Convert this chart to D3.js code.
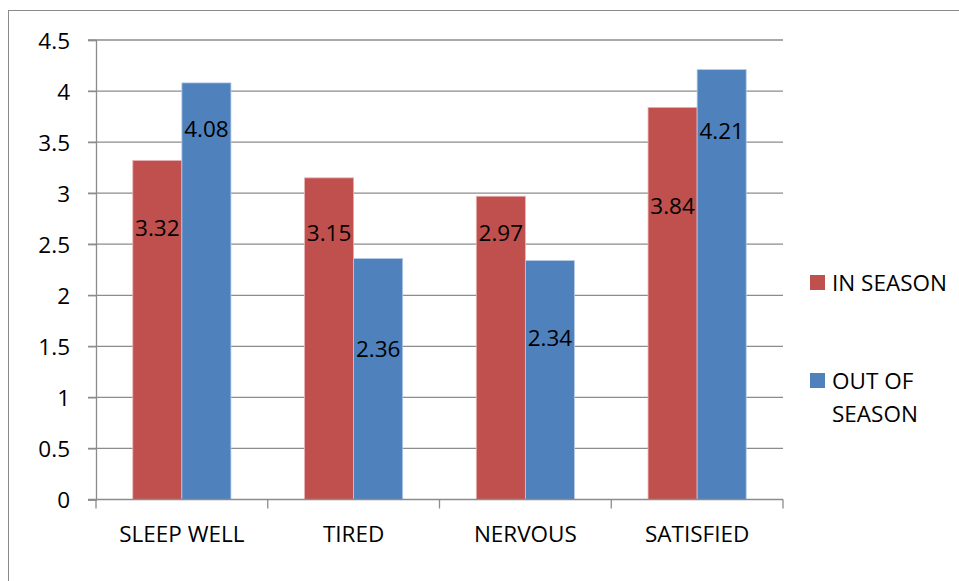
<!DOCTYPE html>
<html>
<head>
<meta charset="utf-8">
<script src="https://cdn.jsdelivr.net/npm/d3@7"></script>
<style>
html,body{margin:0;padding:0;background:#fff;}
svg{display:block;font-family:"Open Sans",sans-serif;}
</style>
</head>
<body>
<svg id="chart" width="959" height="581"></svg>
<script>
const categories = ["SLEEP WELL", "TIRED", "NERVOUS", "SATISFIED"];
const seriesNames = ["IN SEASON", "OUT OF SEASON"];
const inSeason = [3.32, 3.15, 2.97, 3.84];
const outOfSeason = [4.08, 2.36, 2.34, 4.21];
// vertical anchor of each data label, in value units (as placed in the original)
const labelAtIn = [2.66, 2.61, 2.61, 2.88];
const labelAtOut = [3.63, 1.47, 1.58, 3.61];
const yTicks = [0, 0.5, 1, 1.5, 2, 2.5, 3, 3.5, 4, 4.5];
const colors = ["#C0504D", "#4F81BD"];

(function () {
const svg = d3.select("#chart");
const W = 959, H = 581;
const mLeft = 96, mRight = 783, mTop = 40, mBottom = 499.5;

// outer border
svg.append("rect").attr("x", 8.5).attr("y", 10.5).attr("width", W + 10).attr("height", H + 10)
  .attr("fill", "none").attr("stroke", "#8a8a8a").attr("stroke-width", 1);

const x = d3.scaleBand().domain(categories).range([mLeft, mRight]).padding(0);
const xs = d3.scaleBand().domain(seriesNames).range([0, x.bandwidth()]).paddingInner(0).paddingOuter(0.75);
const y = d3.scaleLinear().domain([0, 4.5]).range([mBottom, mTop]);

// gridlines
svg.append("g").selectAll("line").data(yTicks.filter(d => d > 0)).join("line")
  .attr("x1", mLeft - 8).attr("x2", mRight)
  .attr("y1", d => y(d)).attr("y2", d => y(d))
  .attr("stroke", "#8c8c8c").attr("stroke-width", 1.3);

// y axis
const yAxis = svg.append("g").attr("transform", `translate(${mLeft},0)`)
  .call(d3.axisLeft(y).tickValues(yTicks).tickSize(8).tickPadding(18).tickFormat(d3.format("")));
yAxis.select(".domain").attr("stroke", "#8c8c8c").attr("stroke-width", 1.3);
yAxis.selectAll(".tick line").attr("stroke", "#8c8c8c").attr("stroke-width", 1.3);
yAxis.selectAll(".tick text").attr("font-size", 22.5).attr("fill", "#000")
  .attr("font-family", "Open Sans, sans-serif").attr("dy", "0.36em");

// bars
const rows = categories.map((c, i) => ({c, vals: [inSeason[i], outOfSeason[i]], labs: [labelAtIn[i], labelAtOut[i]]}));
const groups = svg.append("g").selectAll("g").data(rows).join("g")
  .attr("transform", d => `translate(${x(d.c)},0)`);
groups.selectAll("rect").data(d => d.vals.map((v, k) => ({v, k, lab: d.labs[k]}))).join("rect")
  .attr("x", d => xs(seriesNames[d.k]))
  .attr("width", xs.bandwidth())
  .attr("y", d => y(d.v))
  .attr("height", d => y(0) - y(d.v))
  .attr("fill", d => colors[d.k])
  .attr("stroke", d => d.k === 0 ? "#e8b4b3" : "#b7cbe6")
  .attr("stroke-width", 0.8);

// x axis
const xAxis = svg.append("g").attr("transform", `translate(0,${mBottom})`);
xAxis.append("line").attr("x1", mLeft - 8).attr("x2", mRight).attr("y1", 0).attr("y2", 0)
  .attr("stroke", "#8c8c8c").attr("stroke-width", 1.3);
const xEdges = categories.map(c => x(c)).concat([x(categories[categories.length - 1]) + x.bandwidth()]);
xAxis.selectAll("line.tk").data(xEdges).join("line").attr("class", "tk")
  .attr("x1", d => d).attr("x2", d => d).attr("y1", 0).attr("y2", 9)
  .attr("stroke", "#8c8c8c").attr("stroke-width", 1.3);
xAxis.selectAll("text").data(categories).join("text")
  .attr("x", d => x(d) + x.bandwidth() / 2).attr("y", 42.5)
  .attr("text-anchor", "middle").attr("font-size", 22.5).attr("fill", "#000").text(d => d);

// data labels
groups.selectAll("text").data(d => d.vals.map((v, k) => ({v, k, lab: d.labs[k]}))).join("text")
  .attr("x", d => xs(seriesNames[d.k]) + xs.bandwidth() / 2)
  .attr("y", d => y(d.lab))
  .attr("dy", "0.36em")
  .attr("text-anchor", "middle").attr("font-size", 22.5).attr("fill", "#000")
  .text(d => d.v.toFixed(2));

// legend
const legendItems = [
  {name: seriesNames[0], lines: ["IN SEASON"], y: 275},
  {name: seriesNames[1], lines: ["OUT OF", "SEASON"], y: 373}
];
const lg = svg.append("g").selectAll("g").data(legendItems).join("g");
lg.append("rect").attr("x", 810).attr("y", d => d.y).attr("width", 15).attr("height", 15)
  .attr("fill", (d, i) => colors[i]);
lg.each(function(d) {
  const t = d3.select(this).append("text").attr("font-size", 22.5).attr("fill", "#000");
  d.lines.forEach((l, j) => t.append("tspan").attr("x", 832).attr("y", d.y + 16 + j * 33).text(l));
});
})();
</script>
</body>
</html>
